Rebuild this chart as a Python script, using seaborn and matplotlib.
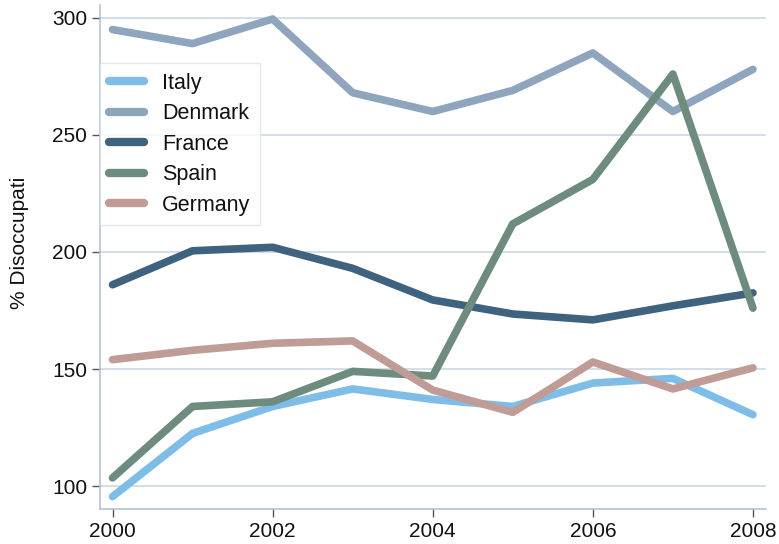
import matplotlib
matplotlib.use("Agg")
import matplotlib.pyplot as plt
import seaborn as sns
import pandas as pd

years = [2000, 2001, 2002, 2003, 2004, 2005, 2006, 2007, 2008]
italy = [95.5, 122.5, 134, 141.5, 137, 134, 144, 146, 130.5]
denmark = [295, 289, 299.5, 268, 260, 269, 285, 260, 278]
france = [186, 200.5, 202, 193, 179.5, 173.5, 171, 177, 182.5]
spain = [103.5, 134, 136, 149, 147, 212, 231, 276, 176]
germany = [154, 158, 161, 162, 141, 131.5, 153, 141.5, 150.5]

countries = ["Italy", "Denmark", "France", "Spain", "Germany"]
colors = ["#7fbde9", "#8ea5bd", "#3f627e", "#6d8c7e", "#bf9c96"]

series = [italy, denmark, france, spain, germany]
df = pd.concat([pd.DataFrame({"year": years, "value": s, "country": c})
                for s, c in zip(series, countries)], ignore_index=True)

sns.set_theme(style="white")
plt.rcParams['font.family'] = ['Liberation Sans', 'DejaVu Sans']

fig = plt.figure(figsize=(7.79, 5.44), dpi=100)
ax = fig.add_axes([0.128, 0.0643, 0.855, 0.927])

for y in [100, 150, 200, 250, 300]:
    ax.axhline(y, color="#d0dbe6", lw=1.3, zorder=0)

sns.lineplot(data=df, x="year", y="value", hue="country", hue_order=countries,
             palette=colors, lw=5.5, ax=ax, legend=True, solid_capstyle="round")

ax.set_xlim(1999.84, 2008.16)
ax.set_ylim(90.2, 305.6)
ax.set_xticks([2000, 2002, 2004, 2006, 2008])
ax.set_yticks([100, 150, 200, 250, 300])
ax.tick_params(axis="both", labelsize=15, colors="#555555", labelcolor="#111111",
               length=6, width=1, direction="out", bottom=True, left=True, pad=3)
ax.set_xlabel("")
ax.set_ylabel("% Disoccupati", fontsize=15, color="#111111")
ax.yaxis.set_label_coords(-0.106, 0.528)

for side in ["top", "right"]:
    ax.spines[side].set_visible(False)
for side in ["left", "bottom"]:
    ax.spines[side].set_color("#b4c3d2")
    ax.spines[side].set_linewidth(1.2)

handles, labels = ax.get_legend_handles_labels()
leg = ax.legend(handles, labels, loc="upper left", bbox_to_anchor=(0.0, 0.884),
                borderaxespad=0, frameon=True, fontsize=15.5, fancybox=False,
                handlelength=1.6, handletextpad=0.85, labelspacing=0.44,
                borderpad=0.45)
leg.get_frame().set_edgecolor("#dde3ea")
leg.get_frame().set_linewidth(1)
for l in leg.get_lines():
    l.set_linewidth(6)
    l.set_solid_capstyle("round")
for t in leg.get_texts():
    t.set_color("#111111")

fig.savefig("out.png", dpi=100)
